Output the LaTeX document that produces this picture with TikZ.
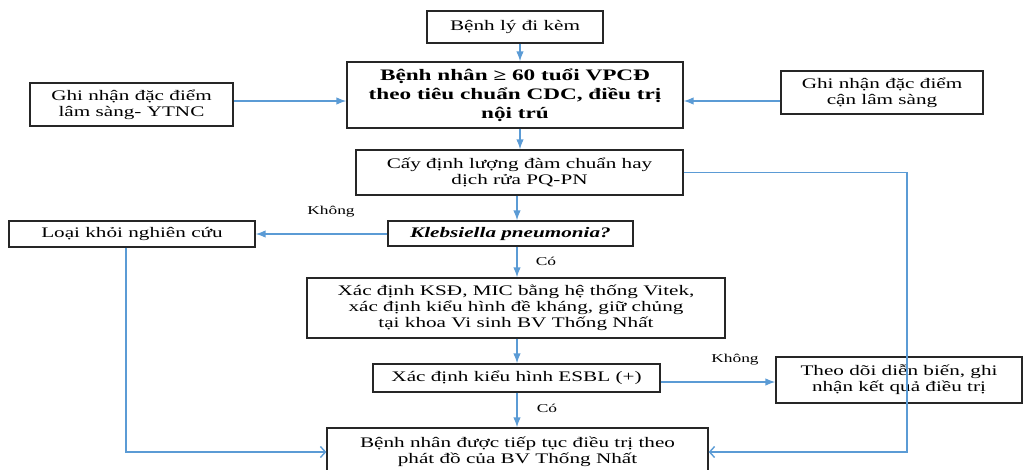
\documentclass[tikz,border=0pt]{standalone}
\usepackage{fontspec}
\setmainfont{Liberation Serif}[FakeStretch=1.45]
\usetikzlibrary{arrows.meta,positioning,calc}
\definecolor{arr}{HTML}{5B9BD5}
\begin{document}
\begin{tikzpicture}[x=1pt,y=-1pt,
  box/.style={draw=black!85,line width=1.3pt,align=center,inner sep=0pt,
    font=\fontsize{14.6}{15.8}\selectfont},
  bbox/.style={box,font=\bfseries\fontsize{16}{19}\selectfont},
  conn/.style={draw=arr,line width=1.4pt,-{Latex[length=10pt,width=7.5pt]}},
  openconn/.style={draw=arr,line width=1.4pt,-{Straight Barb[length=5pt,width=11pt]}},
  lbl/.style={font=\fontsize{12}{13}\selectfont,inner sep=0pt}]
\useasboundingbox (0,0) rectangle (1024,469);
\clip (0,0) rectangle (1024,469);

\node[box,minimum width=176pt,minimum height=32pt] (b1) at (515,27) {Bệnh lý đi kèm};
\node[bbox,minimum width=336pt,minimum height=66pt] (main) at (515,95)
  {Bệnh nhân ≥ 60 tuổi VPCĐ\\theo tiêu chuẩn CDC, điều trị\\nội trú};
\node[box,minimum width=203pt,minimum height=43pt] (left) at (131.5,104.5)
  {Ghi nhận đặc điểm\\lâm sàng- YTNC};
\node[box,minimum width=202pt,minimum height=43pt] (right) at (882,92.5)
  {Ghi nhận đặc điểm\\cận lâm sàng};
\node[box,minimum width=327pt,minimum height=45pt] (cay) at (519.5,172.5)
  {Cấy định lượng đàm chuẩn hay\\dịch rửa PQ-PN};
\node[box,minimum width=245pt,minimum height=25pt] (kleb) at (510.5,233.5)
  {\textbf{\textit{Klebsiella pneumonia?}}};
\node[box,minimum width=246pt,minimum height=26pt] (loai) at (132,234)
  {Loại khỏi nghiên cứu};
\node[box,minimum width=418pt,minimum height=60pt] (ksd) at (516,308)
  {Xác định KSĐ, MIC bằng hệ thống Vitek,\\xác định kiểu hình đề kháng, giữ chủng\\tại khoa Vi sinh BV Thống Nhất};
\node[box,minimum width=287pt,minimum height=28pt] (esbl) at (516.5,378)
  {Xác định kiểu hình ESBL (+)};
\node[box,minimum width=246pt,minimum height=46pt] (theo) at (899,380)
  {Theo dõi diễn biến, ghi\\nhận kết quả điều trị};
\node[box,minimum width=381pt,minimum height=48pt] (final) at (517.5,452)
  {Bệnh nhân được tiếp tục điều trị theo\\phát đồ của BV Thống Nhất};

\coordinate (spine) at (517,0);
\coordinate (spineb) at (520,0);
\coordinate (rline) at (907,300);
\coordinate (lline) at (126,300);

\draw[conn] (b1.south -| spineb) -- (main.north -| spineb);
\draw[conn] (left.east |- 0,101) -- (main.west |- 0,101);
\draw[conn] (right.west |- 0,101) -- (main.east |- 0,101);
\draw[conn] (main.south -| spineb) -- (cay.north -| spineb);
\draw[conn] (cay.south -| spine) -- (kleb.north -| spine);
\draw[conn] (kleb.west |- 0,234) -- (loai.east |- 0,234);
\draw[conn] (kleb.south -| spine) -- (ksd.north -| spine);
\draw[conn] (ksd.south -| spine) -- (esbl.north -| spine);
\draw[conn] (esbl.east |- 0,382) -- (theo.west |- 0,382);
\draw[conn] (esbl.south -| spine) -- (final.north -| spine);
\draw[openconn] (cay.east) -| (rline) |- (final.east);
\draw[openconn] (loai.south -| lline) |- (final.west);

\node[lbl] (l1) at (331,212) {Không};
\node[lbl] (l2) at (546,261) {Có};
\node[lbl] (l3) at (735,360) {Không};
\node[lbl] (l4) at (547,408) {Có};
\end{tikzpicture}
\end{document}
